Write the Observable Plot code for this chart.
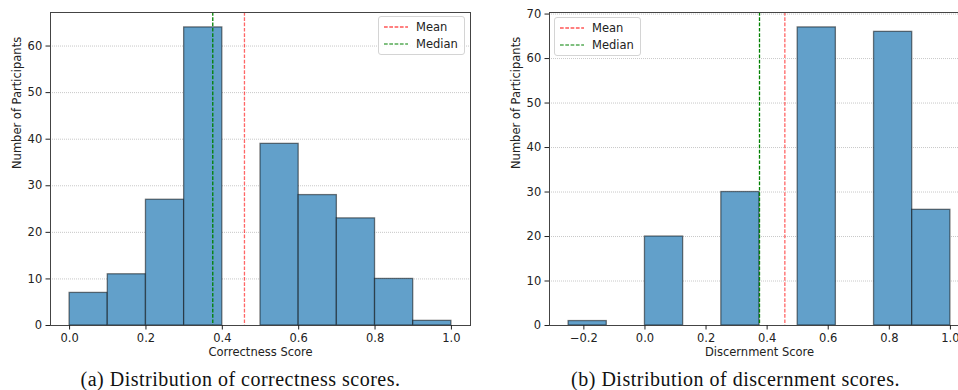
<!DOCTYPE html>
<html><head><meta charset="utf-8">
<script src="https://cdn.jsdelivr.net/npm/d3@7"></script>
<script src="https://cdn.jsdelivr.net/npm/@observablehq/plot@0.6"></script>
<style>
html,body{margin:0;padding:0;width:958px;height:390px;overflow:hidden;background:#fff;}
.panel{position:absolute;top:0;}
.panel svg{max-width:none !important;display:block;}
.caption{position:absolute;top:369px;height:21px;line-height:20px;text-align:center;font-family:"Liberation Serif";font-size:20px;letter-spacing:0.5px;color:#111;white-space:nowrap;}
.legend{position:absolute;border:1px solid #d4d4d4;border-radius:3px;background:rgba(255,255,255,0.85);font-family:"DejaVu Sans";font-size:11.5px;color:#222;}
.legend .row{position:absolute;left:0;height:14px;line-height:14px;}
.legend .row svg{position:absolute;left:4px;top:0;}
.legend .row span{position:absolute;left:37px;top:0;}
</style></head><body>
<div id="a" class="panel" style="left:0"></div>
<div id="b" class="panel" style="left:478px"></div>
<div class="caption" style="left:40px;width:401px">(a) Distribution of correctness scores.</div>
<div class="caption" style="left:535px;width:401px">(b) Distribution of discernment scores.</div>
<script>
// ---- data ----
const correctnessBinStarts = [0.0, 0.1, 0.2, 0.3, 0.4, 0.5, 0.6, 0.7, 0.8, 0.9];
const correctnessBinWidth = 0.1;
const correctnessCounts = [7, 11, 27, 64, 0, 39, 28, 23, 10, 1];
const correctnessMean = 0.458;
const correctnessMedian = 0.375;
const correctnessXTicks = [0.0, 0.2, 0.4, 0.6, 0.8, 1.0];
const correctnessYTicks = [0, 10, 20, 30, 40, 50, 60];

const discernmentBinStarts = [-0.25, -0.125, 0.0, 0.125, 0.25, 0.375, 0.5, 0.625, 0.75, 0.875];
const discernmentBinWidth = 0.125;
const discernmentCounts = [1, 0, 20, 0, 30, 0, 67, 0, 66, 26];
const discernmentMean = 0.458;
const discernmentMedian = 0.375;
const discernmentXTicks = [-0.2, 0.0, 0.2, 0.4, 0.6, 0.8, 1.0];
const discernmentYTicks = [0, 10, 20, 30, 40, 50, 60, 70];

const legendLabels = ["Mean", "Median"];
const meanColor = "red";
const medianColor = "green";

function hist({starts, binWidth, counts, mean, median, xTicks, yTicks, xDomain, yDomain, width, marginLeft, marginRight, xLabel}) {
  const bins = starts.map((s, i) => ({x1: s, x2: s + binWidth, count: counts[i]})).filter(d => d.count > 0);
  return Plot.plot({
    width, height: 366, marginLeft, marginRight, marginTop: 12, marginBottom: 41,
    x: {domain: xDomain},
    y: {domain: yDomain},
    style: {fontFamily: "DejaVu Sans", fontSize: "11.5px", color: "#222", background: "transparent", overflow: "visible"},
    marks: [
      Plot.gridY(yTicks, {stroke: "#999", strokeOpacity: 0.9, strokeDasharray: "1,1", strokeWidth: 0.6}),
      Plot.rectY(bins, {x1: "x1", x2: "x2", y: "count", fill: "#62a0ca", stroke: "#000", strokeOpacity: 0.5, strokeWidth: 1.3}),
      Plot.ruleX([mean], {stroke: meanColor, strokeOpacity: 0.6, strokeDasharray: "3.7,1.6", strokeWidth: 1.3}),
      Plot.ruleX([median], {stroke: medianColor, strokeDasharray: "3.7,1.6", strokeWidth: 1.3}),
      Plot.frame({stroke: "#444", strokeWidth: 1}),
      Plot.axisX(xTicks, {tickSize: 4.5, tickPadding: 3.6, tickFormat: d3.format(".1f"), label: null, stroke: "#222", fontSize: 11.5}),
      Plot.axisY(yTicks, {tickSize: 4.5, tickPadding: 3.8, label: null, stroke: "#222", fontSize: 11.5}),
      Plot.text([xLabel], {text: d => d, frameAnchor: "bottom", dy: 30, fill: "#222", fontSize: 11.5}),
      Plot.text(["Number of Participants"], {text: d => d, frameAnchor: "left", rotate: -90, dx: -33, fill: "#222", fontSize: 11.5})
    ]
  });
}

document.getElementById("a").append(hist({
  starts: correctnessBinStarts, binWidth: correctnessBinWidth, counts: correctnessCounts,
  mean: correctnessMean, median: correctnessMedian,
  xTicks: correctnessXTicks, yTicks: correctnessYTicks,
  xDomain: [-0.05, 1.05], yDomain: [0, 67.2],
  width: 478, marginLeft: 50, marginRight: 8, xLabel: "Correctness Score"
}));

document.getElementById("b").append(hist({
  starts: discernmentBinStarts, binWidth: discernmentBinWidth, counts: discernmentCounts,
  mean: discernmentMean, median: discernmentMedian,
  xTicks: discernmentXTicks, yTicks: discernmentYTicks,
  xDomain: [-0.3125, 1.0625], yDomain: [0, 70.35],
  width: 501, marginLeft: 71, marginRight: 10, xLabel: "Discernment Score"
}));

function legend(left, top) {
  const box = document.createElement("div");
  box.className = "legend";
  Object.assign(box.style, {left: left + "px", top: top + "px", width: "85px", height: "37px"});
  legendLabels.forEach((lab, i) => {
    const row = document.createElement("div");
    row.className = "row";
    row.style.top = (3 + i * 17) + "px";
    row.style.width = "85px";
    const color = i === 0 ? meanColor : medianColor;
    row.innerHTML = `<svg width="26" height="14"><line x1="1" x2="25" y1="7" y2="7" stroke="${color}" stroke-width="1.2" stroke-dasharray="3.7,1.6"/></svg><span>${lab}</span>`;
    box.append(row);
  });
  document.body.append(box);
}
legend(378, 16);
legend(554, 17);
</script>
</body></html>
